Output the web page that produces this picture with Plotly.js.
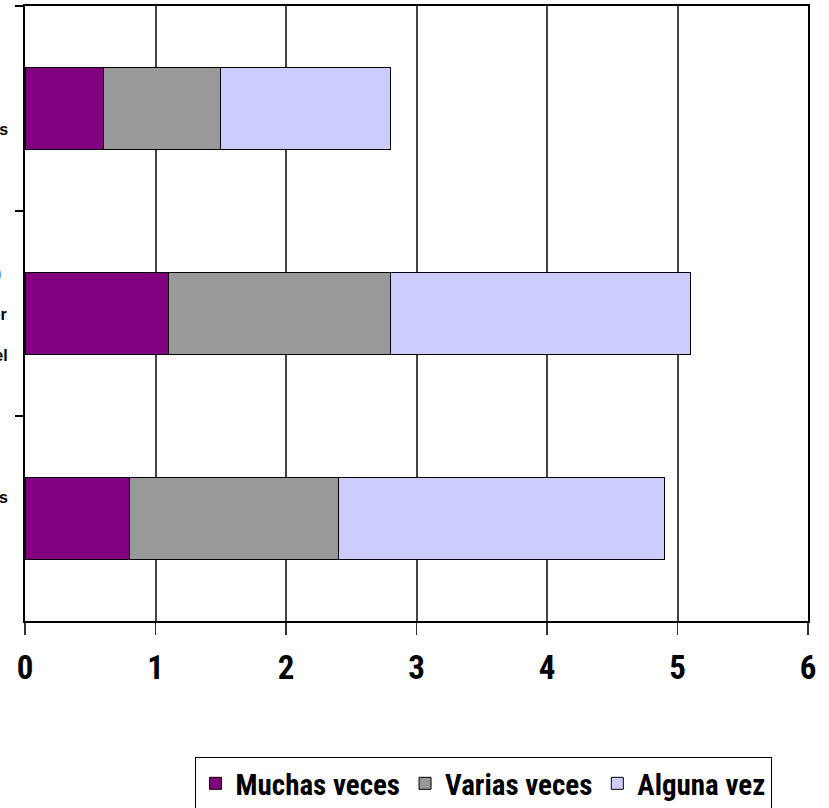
<!DOCTYPE html>
<html>
<head>
<meta charset="utf-8">
<script src="https://cdn.plot.ly/plotly-3.0.1.min.js"></script>
<style>
  html, body { margin: 0; padding: 0; background: #ffffff; overflow: hidden; }
  #chart { width: 829px; height: 808px; }
</style>
</head>
<body>
<div id="chart"></div>
<script>
// Categories, top to bottom as drawn
const categories = [
  "Te ha insultado<br>o amenazado con<br>palabras ofensivas o gritos",
  "Te ha ridiculizado o criticado, en<br>público o en privado,<br>haciéndote sentir siempre inferior<br>y provocando<br>que dudes de ti misma en el papel",
  "Te ha impedido ver a tus amigos<br>o a tu familia<br>de forma habitual"
];
const seriesNames = ["Muchas veces", "Varias veces", "Alguna vez"];
const muchasVeces = [0.6, 1.1, 0.8];
const variasVeces = [0.9, 1.7, 1.6];
const algunaVez   = [1.3, 2.3, 2.5];
const xTickValues = [0, 1, 2, 3, 4, 5, 6];
const xTickLabels = ["0", "1", "2", "3", "4", "5", "6"];

const colors = ["#800080", "#999999", "#CCCCFF"];
const values = [muchasVeces, variasVeces, algunaVez];

// pick a condensed face if one is installed, else fall back to Liberation Sans
const ctx = document.createElement("canvas").getContext("2d");
function measure(font, txt) { ctx.font = font; return ctx.measureText(txt).width; }
const probe = "Muchas veces 0123";
const candidates = ["Liberation Sans Narrow", "Arial Narrow", "Noto Sans Condensed",
                    "Roboto Condensed", "Open Sans Condensed", "DejaVu Sans Condensed"];
let narrowName = null;
for (const n of candidates) {
  if (measure(`bold 50px "${n}", monospace`, probe) !== measure("bold 50px monospace", probe)) { narrowName = n; break; }
}
const bigFamily = (narrowName ? `'${narrowName}', ` : "") + "'Liberation Sans', Arial, sans-serif";
const perPx = measure(`bold 100px ${bigFamily}`, "Muchas veces") / 100;
const legendSize = Math.round(163 / perPx);
const tickSize = Math.round(legendSize * 1.15);

const traces = values.map((v, i) => ({
  type: "bar",
  orientation: "h",
  name: seriesNames[i],
  x: v,
  y: categories,
  marker: { color: colors[i], line: { color: "#000000", width: 1 } },
  hoverinfo: "skip"
}));

const annotations = categories.map(c => ({
  xref: "paper", yref: "y",
  x: 0, y: c,
  xanchor: "right", yanchor: "middle",
  xshift: -15,
  align: "center",
  showarrow: false,
  text: c,
  font: { family: "'Liberation Sans', Arial, sans-serif", size: 16, color: "#000000", weight: "bold" }
}));

const layout = {
  width: 829, height: 808,
  margin: { l: 25, r: 21, t: 6, b: 187, pad: 0, autoexpand: false },
  paper_bgcolor: "#ffffff",
  plot_bgcolor: "#ffffff",
  barmode: "stack",
  bargap: 0.6,
  showlegend: true,
  legend: {
    orientation: "h",
    x: 0.585, xanchor: "center",
    y: -0.2211, yanchor: "top",
    traceorder: "normal",
    bgcolor: "#ffffff",
    bordercolor: "#000000",
    borderwidth: 1,
    itemgap: 3,
    font: { family: bigFamily, size: legendSize, color: "#000000", weight: "bold" }
  },
  xaxis: {
    range: [0, 6],
    tickvals: xTickValues,
    ticktext: xTickLabels,
    ticks: "outside",
    ticklen: 12,
    tickwidth: 1.5,
    tickcolor: "#333333",
    showgrid: true,
    gridcolor: "#454545",
    gridwidth: 2,
    zeroline: false,
    showline: true,
    linecolor: "#000000",
    linewidth: 2,
    mirror: true,
    ticklabelstandoff: 4,
    tickfont: { family: bigFamily, size: tickSize, color: "#000000", weight: "bold" },
    fixedrange: true
  },
  yaxis: {
    type: "category",
    categoryorder: "array",
    categoryarray: categories,
    autorange: "reversed",
    ticks: "outside",
    tickson: "boundaries",
    ticklen: 8,
    tickwidth: 1.5,
    tickcolor: "#000000",
    showticklabels: false,
    showgrid: false,
    zeroline: false,
    showline: true,
    linecolor: "#000000",
    linewidth: 2,
    mirror: true,
    fixedrange: true
  },
  annotations: annotations
};

Plotly.newPlot("chart", traces, layout, { displayModeBar: false, staticPlot: true });
</script>
</body>
</html>
